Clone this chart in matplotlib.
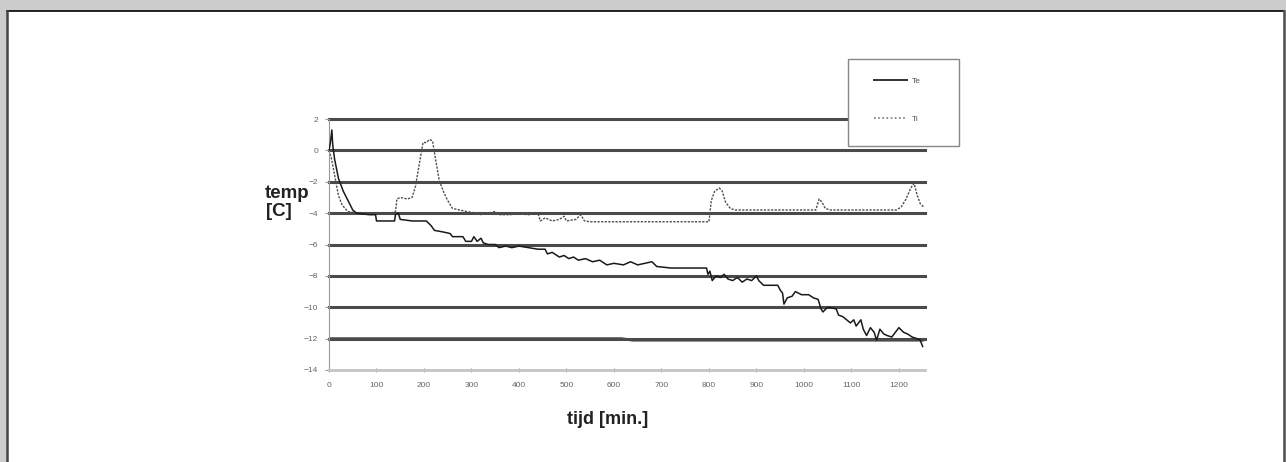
import matplotlib
matplotlib.use("Agg")
import matplotlib.pyplot as plt
from matplotlib.lines import Line2D
from matplotlib.patches import Rectangle

plt.rcParams['font.family'] = ['Liberation Sans', 'DejaVu Sans']

# temperature readings, time in minutes
te_t = [0, 3, 6, 8, 12, 20, 30, 40, 50, 58, 70, 85, 98, 100, 120, 138, 140, 146, 150, 175,
        205, 215, 222, 240, 255, 260, 282, 288, 300, 305, 312, 320, 325, 335, 350, 358, 372,
        385, 400, 420, 440, 455, 460, 470, 485, 495, 505, 515, 525, 540, 555, 570, 585, 600,
        620, 635, 650, 665, 680, 690, 720, 760, 795, 798, 802, 807, 815, 825, 832, 840, 850,
        860, 870, 880, 890, 900, 905, 915, 945, 950, 955, 958, 965, 975, 982, 995, 1010, 1020,
        1030, 1036, 1040, 1050, 1068, 1073, 1082, 1090, 1098, 1105, 1110, 1120, 1125, 1132,
        1140, 1148, 1153, 1160, 1168, 1175, 1185, 1195, 1200, 1210, 1218, 1228, 1238, 1245, 1250]
te_y = [0, 0.5, 1.3, 0.3, -0.6, -1.8, -2.6, -3.2, -3.8, -4.0, -4.05, -4.1, -4.1, -4.5, -4.5,
        -4.5, -4.1, -4.0, -4.4, -4.5, -4.5, -4.8, -5.1, -5.2, -5.3, -5.5, -5.5, -5.8, -5.8, -5.5,
        -5.8, -5.6, -5.9, -6.0, -6.0, -6.2, -6.1, -6.2, -6.1, -6.2, -6.3, -6.3, -6.6, -6.5, -6.8,
        -6.7, -6.9, -6.8, -7.0, -6.9, -7.1, -7.0, -7.3, -7.2, -7.3, -7.1, -7.3, -7.2, -7.1, -7.4,
        -7.5, -7.5, -7.5, -7.9, -7.7, -8.3, -8.0, -8.1, -7.9, -8.2, -8.3, -8.1, -8.4, -8.2, -8.3,
        -8.0, -8.3, -8.6, -8.6, -8.9, -9.1, -9.8, -9.4, -9.3, -9.0, -9.2, -9.2, -9.4, -9.5, -10.1,
        -10.3, -10.0, -10.1, -10.5, -10.6, -10.8, -11.0, -10.8, -11.2, -10.8, -11.4, -11.8, -11.3,
        -11.6, -12.1, -11.4, -11.7, -11.8, -11.9, -11.5, -11.3, -11.6, -11.7, -11.9, -12.0, -12.1,
        -12.5]

ti_t = [0, 5, 12, 20, 28, 40, 60, 90, 130, 140, 143, 150, 165, 175, 182, 190, 198, 205, 212,
        218, 224, 232, 242, 250, 260, 275, 290, 310, 320, 335, 350, 360, 380, 400, 420, 440,
        445, 455, 470, 485, 495, 500, 520, 530, 538, 550, 800, 805, 812, 822, 828, 835, 845,
        855, 1025, 1032, 1038, 1045, 1055, 1195, 1205, 1215, 1225, 1232, 1238, 1245, 1252]
ti_y = [0, -0.5, -1.6, -2.9, -3.5, -3.9, -4.0, -4.0, -4.0, -3.9, -3.1, -3.0, -3.1, -3.0, -2.3,
        -0.9, 0.5, 0.5, 0.7, 0.6, -0.5, -1.9, -2.7, -3.2, -3.7, -3.8, -3.9, -4.0, -4.1, -4.0,
        -3.9, -4.1, -4.1, -4.05, -4.1, -4.0, -4.5, -4.3, -4.5, -4.4, -4.2, -4.5, -4.4, -4.1,
        -4.5, -4.55, -4.55, -3.2, -2.6, -2.4, -2.6, -3.3, -3.7, -3.8, -3.8, -3.1, -3.3, -3.7,
        -3.8, -3.8, -3.6, -3.1, -2.4, -2.1, -2.8, -3.4, -3.6]

# bottom reference line
tb_t = [0, 615, 640, 1250]
tb_y = [-12.0, -12.0, -12.1, -12.1]

y_ticks = [2, 0, -2, -4, -6, -8, -10, -12, -14]
x_ticks = list(range(0, 1300, 100))

W, H = 1286, 462
fig = plt.figure(figsize=(W / 100, H / 100), dpi=100, facecolor='#cccccc')

# white page with its frame, kept behind the axes
fig.add_artist(Rectangle((7 / W, -0.05), (1283 - 7) / W, 1.05 - 10.5 / H,
                         transform=fig.transFigure, facecolor='white', edgecolor='none',
                         zorder=-2))
fig.add_artist(Line2D([7 / W, 1284 / W], [1 - 10.5 / H] * 2, transform=fig.transFigure,
                      color='black', lw=1.2, zorder=-1))
fig.add_artist(Line2D([7 / W] * 2, [0, 1 - 10.5 / H], transform=fig.transFigure,
                      color='#444444', lw=1.8, zorder=-1))
fig.add_artist(Line2D([1283.5 / W] * 2, [0, 1 - 10.5 / H], transform=fig.transFigure,
                      color='#555555', lw=1.8, zorder=-1))

ax = fig.add_axes([329 / W, 1 - 370 / H, (925 - 329) / W, (370 - 119) / H])
ax.set_facecolor('none')

for v in y_ticks[:-1]:
    ax.axhline(v, color='#4a4a4a', lw=2.2, zorder=1, clip_on=False)
ax.plot(tb_t, tb_y, color='#4a4a4a', lw=2.0, zorder=1)

ax.plot(ti_t, ti_y, color='#4d4d4d', lw=1.0, linestyle=(0, (1.6, 1.0)), zorder=2)
ax.plot(te_t, te_y, color='#1a1a1a', lw=1.1, zorder=3)

ax.set_xlim(0, 1255)
ax.set_ylim(-14, 2)
ax.set_xticks(x_ticks)
ax.set_yticks(y_ticks)
ax.tick_params(axis='both', labelsize=6, labelcolor='#666666', color='#999999',
               length=3, width=0.8)
ax.tick_params(axis='x', direction='inout', pad=7)
ax.tick_params(axis='y', direction='out', pad=5)

for s in ['top', 'right']:
    ax.spines[s].set_visible(False)
ax.spines['left'].set_color('#999999')
ax.spines['left'].set_linewidth(0.8)
ax.spines['bottom'].set_color('#c4c4c4')
ax.spines['bottom'].set_linewidth(2.0)

fig.text(265 / W, 1 - 193 / H, 'temp', fontsize=13.5, fontweight='bold', color='#222222',
         va='center', ha='left')
fig.text(266 / W, 1 - 212 / H, '[C]', fontsize=13.5, fontweight='bold', color='#222222',
         va='center', ha='left')
fig.text(608 / W, 1 - 419 / H, 'tijd [min.]', fontsize=13, fontweight='bold',
         color='#222222', va='center', ha='center')

# legend box
fig.add_artist(Rectangle((848 / W, 1 - 146 / H), 111 / W, 87 / H, transform=fig.transFigure,
                         facecolor='white', edgecolor='#888888', lw=1.0))
leg = fig.legend(handles=[Line2D([], [], color='#333333', lw=1.4),
                          Line2D([], [], color='#777777', lw=1.2, linestyle=(0, (1, 1.5)))],
                 labels=['Te', 'Ti'], loc='upper left',
                 bbox_to_anchor=(866 / W, 1 - 70 / H), frameon=False, fontsize=6,
                 labelspacing=3.6, handlelength=4.0, handletextpad=0.6, labelcolor='#555555')

fig.savefig('out.png', dpi=100, facecolor=fig.get_facecolor())
